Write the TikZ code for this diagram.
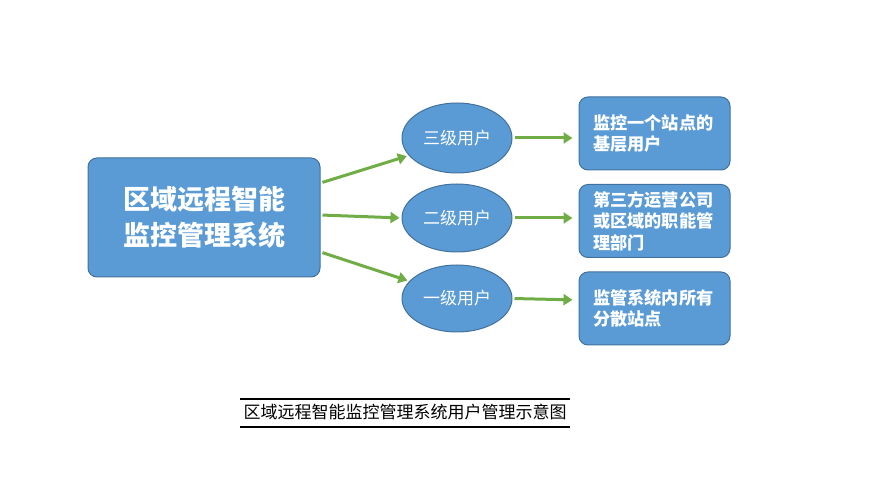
\documentclass[tikz,border=0pt]{standalone}
\usepackage{fontspec}
\newfontfamily\cjk{Noto Sans CJK SC}
\usetikzlibrary{arrows.meta,positioning,shapes.geometric}
\definecolor{boxblue}{HTML}{5B9BD5}
\definecolor{boxedge}{HTML}{41719C}
\definecolor{arrgreen}{HTML}{70AD47}
\tikzset{
  bluebox/.style={draw=boxedge,line width=1pt,fill=boxblue,rounded corners=9pt,text=white,font=\cjk\bfseries},
  blueell/.style={draw=boxedge,line width=1pt,fill=boxblue,ellipse,text=white,font=\cjk\fontsize{17}{19}\selectfont},
  garrow/.style={draw=arrgreen,line width=3pt,-{Triangle[length=9pt,width=11pt]}},
  rbox/.style={bluebox,minimum width=151pt,minimum height=73pt,text width=123pt,inner xsep=0pt,align=left,font=\cjk\bfseries\fontsize{17.2}{21.5}\selectfont}
}
\begin{document}
\begin{tikzpicture}[x=1pt,y=-1pt]
\useasboundingbox (0,0) rectangle (876,486);
\node[bluebox,minimum width=232pt,minimum height=119pt,align=center,font=\cjk\bfseries\fontsize{27}{36}\selectfont] (sys) at (204,217.5) {区域远程智能\\监控管理系统};
\node[blueell,minimum width=110pt,minimum height=70pt] (e3) at (457,138) {三级用户};
\node[blueell,minimum width=110pt,minimum height=68pt] (e2) at (457,218) {二级用户};
\node[blueell,minimum width=110pt,minimum height=67pt] (e1) at (457,298.5) {一级用户};
\node[rbox] (b3) at (654.5,133.5) {监控一个站点的\\基层用户};
\node[rbox] (b2) at (654.5,221) {第三方运营公司\\或区域的职能管\\理部门};
\node[rbox] (b1) at (654.5,308.5) {监管系统内所有\\分散站点};
\draw[garrow,shorten <=2pt,shorten >=2pt] (sys.east|-0,183) -- (e3.200);
\draw[garrow,shorten <=2pt,shorten >=2pt] (sys.east|-0,215) -- (e2.west);
\draw[garrow,shorten <=2pt,shorten >=2pt] (sys.east|-0,252) -- (e1.160);
\draw[garrow,shorten <=2pt,shorten >=6pt] (e3.east) -- (b3.west|-e3.east);
\draw[garrow,shorten <=2pt,shorten >=6pt] (e2.east) -- (b2.west|-e2.east);
\draw[garrow,shorten <=2pt,shorten >=6pt] (e1.east) -- (b1.west|-0,300);
\node[font=\cjk\fontsize{17}{19}\selectfont] (cap) at (405,412) {区域远程智能监控管理系统用户管理示意图};
\coordinate (l1a) at (240,399); \coordinate (l1b) at (570,399);
\coordinate (l2a) at (240,427); \coordinate (l2b) at (570,427);
\draw[line width=1.3pt] (l1a) -- (l1b);
\draw[line width=2pt] (l2a) -- (l2b);
\end{tikzpicture}
\end{document}
